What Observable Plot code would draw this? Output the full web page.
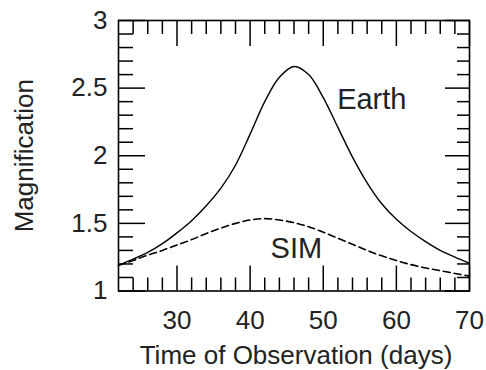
<!DOCTYPE html>
<html><head><meta charset="utf-8">
<script src="https://cdn.jsdelivr.net/npm/d3@7"></script>
<script src="https://cdn.jsdelivr.net/npm/@observablehq/plot@0.6"></script>
<style>body{margin:0;background:#fff;}</style>
</head><body><div id="chart"></div>
<script>
// Earth (solid) light curve
const earthDays = [22, 24, 26, 28, 30, 32, 34, 36, 38, 40, 42, 44, 46, 48, 50, 52, 54, 56, 58, 60, 62, 64, 66, 68, 70];
const earthMag  = [1.19, 1.235, 1.285, 1.35, 1.43, 1.52, 1.63, 1.76, 1.93, 2.16, 2.40, 2.58, 2.66, 2.60, 2.43, 2.21, 1.99, 1.80, 1.645, 1.53, 1.44, 1.365, 1.30, 1.25, 1.205];
// SIM (dashed) light curve
const simDays = [22, 24, 26, 28, 30, 32, 34, 36, 38, 40, 42, 44, 46, 48, 50, 52, 54, 56, 58, 60, 62, 64, 66, 68, 70];
const simMag  = [1.19, 1.225, 1.265, 1.30, 1.34, 1.38, 1.425, 1.465, 1.50, 1.525, 1.535, 1.525, 1.505, 1.475, 1.435, 1.39, 1.345, 1.30, 1.26, 1.225, 1.195, 1.17, 1.15, 1.13, 1.11];

const xMajorTicks = [30, 40, 50, 60, 70];
const xMinorTicks = [24, 26, 28, 32, 34, 36, 38, 42, 44, 46, 48, 52, 54, 56, 58, 62, 64, 66, 68];
const yMajorTicks = [1, 1.5, 2, 2.5, 3];
const yMajorLabels = ["1", "1.5", "2", "2.5", "3"];
const yMinorTicks = [1.1, 1.2, 1.3, 1.4, 1.6, 1.7, 1.8, 1.9, 2.1, 2.2, 2.3, 2.4, 2.6, 2.7, 2.8, 2.9];

const seriesNames = ["Earth", "SIM"];
const nameDays = [51.9, 42.8];
const nameMags = [2.5, 1.396];

const xTitle = "Time of Observation (days)";
const yTitle = "Magnification";

const earth = earthDays.map((d, i) => ({day: d, mag: earthMag[i]}));
const sim = simDays.map((d, i) => ({day: d, mag: simMag[i]}));
const names = seriesNames.map((n, i) => ({name: n, day: nameDays[i], mag: nameMags[i]}));

const font = "'Liberation Sans', Arial, Helvetica, sans-serif";
const txt = "#222";
const noLabel = () => "";
const tk = {tickFormat: noLabel, label: null, stroke: "black", strokeWidth: 1.5};

const chart = Plot.plot({
  width: 486, height: 370,
  marginLeft: 118, marginRight: 17, marginTop: 20, marginBottom: 79.5,
  style: {fontFamily: font, background: "white", color: txt, overflow: "visible"},
  x: {domain: [22, 70]},
  y: {domain: [1, 3]},
  marks: [
    Plot.line(earth, {x: "day", y: "mag", stroke: "black", strokeWidth: 1.4, curve: "catmull-rom"}),
    Plot.line(sim, {x: "day", y: "mag", stroke: "black", strokeWidth: 1.6, strokeDasharray: "7,4", curve: "catmull-rom"}),
    // inward ticks on all four sides (outward ticks shifted into the frame)
    Plot.axisX(xMajorTicks, {anchor: "bottom", tickSize: 25, dy: -25, ...tk}),
    Plot.axisX(xMinorTicks, {anchor: "bottom", tickSize: 13, dy: -13, ...tk}),
    Plot.axisX(xMajorTicks, {anchor: "top", tickSize: 25, dy: 25, ...tk}),
    Plot.axisX(xMinorTicks, {anchor: "top", tickSize: 13, dy: 13, ...tk}),
    Plot.axisY(yMajorTicks, {anchor: "left", tickSize: 27, dx: 27, ...tk}),
    Plot.axisY(yMinorTicks, {anchor: "left", tickSize: 15, dx: 15, ...tk}),
    Plot.axisY(yMajorTicks, {anchor: "right", tickSize: 25, dx: -25, ...tk}),
    Plot.axisY(yMinorTicks, {anchor: "right", tickSize: 13, dx: -13, ...tk}),
    // tick labels
    Plot.axisX(xMajorTicks, {anchor: "bottom", tickSize: 0, tickPadding: 20, fontSize: 26, label: null, fill: txt}),
    Plot.axisY(yMajorTicks, {anchor: "left", tickSize: 0, tickPadding: 11, fontSize: 26, label: null, fill: txt, tickFormat: (d) => yMajorLabels[yMajorTicks.indexOf(d)]}),
    Plot.frame({stroke: "black", strokeWidth: 1.6}),
    // series names
    Plot.text(names, {x: "day", y: "mag", text: "name", textAnchor: "start", lineAnchor: "top", fontSize: 29, fill: txt}),
    // axis titles
    Plot.text([xTitle], {frameAnchor: "bottom", textAnchor: "middle", lineAnchor: "top", dy: 55, dx: 2, fontSize: 26, fill: txt}),
    Plot.text([yTitle], {frameAnchor: "left", textAnchor: "middle", rotate: -90, lineAnchor: "middle", dx: -94, fontSize: 26, fill: txt})
  ]
});
document.getElementById("chart").appendChild(chart);
</script>
</body></html>
